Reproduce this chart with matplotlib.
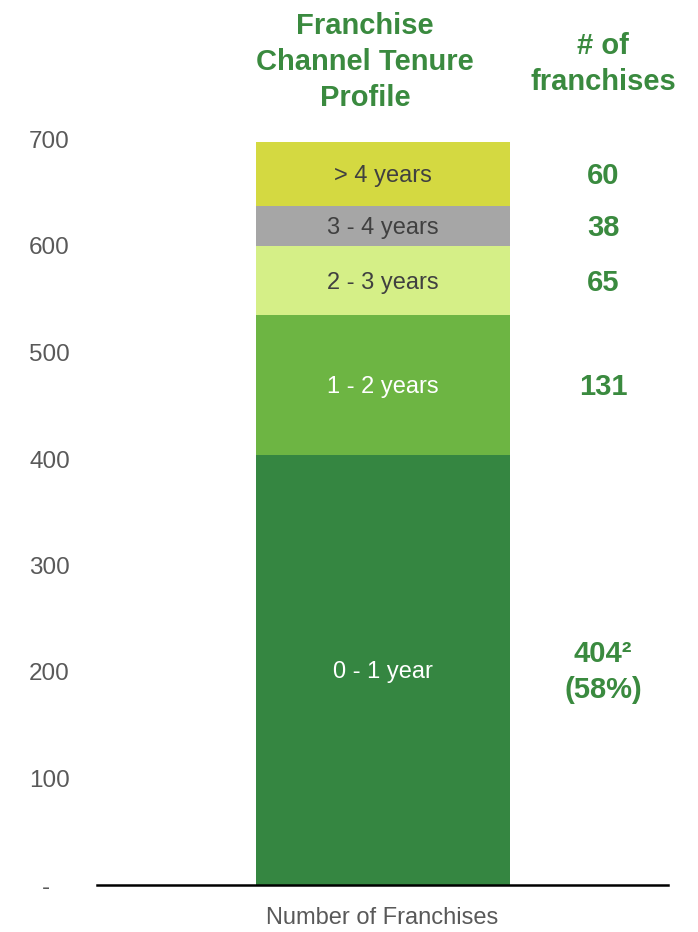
# Franchise channel tenure profile - single stacked bar
import matplotlib.pyplot as plt

plt.rcParams['font.family'] = ['Liberation Sans', 'DejaVu Sans']

segments = ["0 - 1 year", "1 - 2 years", "2 - 3 years", "3 - 4 years", "> 4 years"]
counts = [404, 131, 65, 38, 60]
count_labels = ["404²\n(58%)", "131", "65", "38", "60"]
colors = ["#358641", "#6db543", "#d5ef87", "#a6a6a6", "#d4d941"]
text_colors = ["white", "white", "#404040", "#404040", "#404040"]
yticks = [0, 100, 200, 300, 400, 500, 600, 700]
ytick_labels = ["-   ", "100", "200", "300", "400", "500", "600", "700"]

GREEN = "#3a8a3f"
GRAY = "#595959"

fig = plt.figure(figsize=(6.98, 9.32), dpi=100)
ax = fig.add_axes([97 / 698, 47 / 932, 571 / 698, 745.5 / 932])

bottom = 0
for seg, n, lab, c, tc in zip(segments, counts, count_labels, colors, text_colors):
    ax.bar(0, n, bottom=bottom, width=1.0, color=c)
    mid = bottom + n / 2
    ax.text(0, mid - 2, seg, ha="center", va="center", fontsize=17, color=tc)
    ax.text(0.866, mid - 2, lab, ha="center", va="center", fontsize=21,
            fontweight="bold", color=GREEN, linespacing=1.4)
    bottom += n

ax.set_xlim(-1.126, 1.122)
ax.set_ylim(0, 700)
ax.set_yticks(yticks)
ax.set_yticklabels(ytick_labels)
ax.set_xticks([])
ax.tick_params(axis="y", length=0, labelsize=17.5, labelcolor=GRAY, pad=19.5)
for s in ["top", "right", "left"]:
    ax.spines[s].set_visible(False)
ax.spines["bottom"].set_linewidth(1.8)
ax.spines["bottom"].set_color("black")

ax.set_xlabel("Number of Franchises", fontsize=17, color=GRAY, labelpad=16)

fig.text(365 / 698, 1 - 62 / 932, "Franchise\nChannel Tenure\nProfile", ha="center",
         va="center", fontsize=21, fontweight="bold", color=GREEN, linespacing=1.38)
fig.text(603 / 698, 1 - 64 / 932, "# of\nfranchises", ha="center", va="center",
         fontsize=21, fontweight="bold", color=GREEN, linespacing=1.38)

fig.savefig("out.png", dpi=100)
